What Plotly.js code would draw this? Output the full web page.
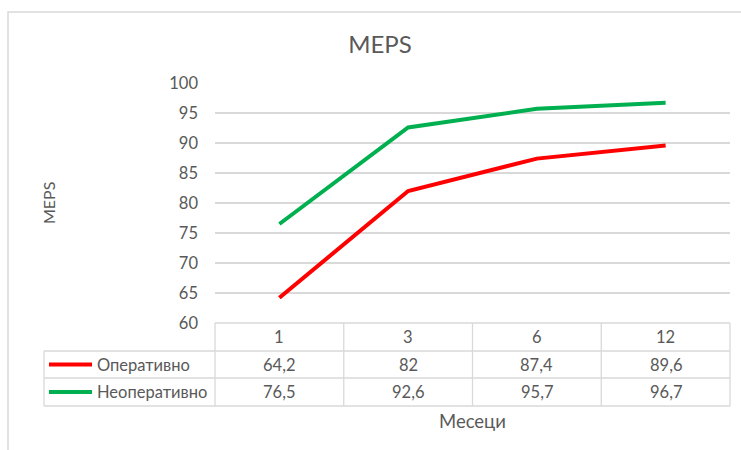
<!DOCTYPE html>
<html>
<head>
<meta charset="utf-8">
<script src="https://cdn.plot.ly/plotly-3.0.1.min.js"></script>
<style>html,body{margin:0;padding:0;background:#fff;}#chart{width:741px;height:450px;}</style>
</head>
<body>
<div id="chart"></div>
<script>
// MEPS by follow-up month, operative vs non-operative
const months = ['1', '3', '6', '12'];
const seriesNames = ['Оперативно', 'Неоперативно'];
const operative = [64.2, 82, 87.4, 89.6];
const nonOperative = [76.5, 92.6, 95.7, 96.7];
const seriesValues = [operative, nonOperative];
const seriesColors = ['#FF0000', '#00B050'];

const W = 741, H = 450;
const L = 215, R = 730, T = 83, B = 323;
const px = x => (x - L) / (R - L);
const py = y => (B - y) / (B - T);

const textColor = '#595959';
const gridColor = '#D9D9D9';
const fontFamily = 'Lato, "Open Sans", sans-serif';

const traces = seriesValues.map((vals, i) => ({
  type: 'scatter', mode: 'lines', name: seriesNames[i],
  x: months, y: vals,
  line: {color: seriesColors[i], width: 4},
  hoverinfo: 'x+y+name'
}));

// data table grid below the plot
const rowTop = [323, 351, 378, 406];
const tableLeft = 44;
const shapes = [];
const gl = (x0, y0, x1, y1, c, w) => shapes.push({type: 'line', xref: 'paper', yref: 'paper',
  x0: px(x0), y0: py(y0), x1: px(x1), y1: py(y1), line: {color: c || gridColor, width: w || 1.3}});
gl(L, rowTop[0], R, rowTop[0]);
gl(tableLeft, rowTop[1], R, rowTop[1]);
gl(tableLeft, rowTop[2], R, rowTop[2]);
gl(tableLeft, rowTop[3], R, rowTop[3]);
for (let k = 0; k <= months.length; k++) {
  const x = L + (R - L) * k / months.length;
  gl(x, rowTop[0], x, rowTop[3]);
}
gl(tableLeft, rowTop[1], tableLeft, rowTop[3]);
// legend keys in the table rows
seriesColors.forEach((c, i) => {
  const y = (rowTop[i + 1] + rowTop[i + 2]) / 2;
  gl(49, y, 92, y, c, 4);
});
// chart frame
shapes.push({type: 'rect', xref: 'paper', yref: 'paper', layer: 'below',
  x0: px(8), y0: py(12), x1: px(760), y1: py(470), line: {color: gridColor, width: 1.5}});

const annotations = [];
const tableFont = {family: fontFamily, size: 16.5, color: textColor};
const cell = (xref, x, y, text, xanchor) => annotations.push({xref: xref, yref: 'paper',
  x: x, y: y, text: text, xanchor: xanchor || 'center', yanchor: 'middle',
  showarrow: false, font: tableFont});
// category positions on the x axis are their indices
months.forEach((m, j) => cell('x', j, py((rowTop[0] + rowTop[1]) / 2), m));
seriesValues.forEach((vals, i) => {
  const y = py((rowTop[i + 1] + rowTop[i + 2]) / 2);
  cell('paper', px(95), y, seriesNames[i], 'left');
  vals.forEach((v, j) => cell('x', j, y, String(v).replace('.', ',')));
});
annotations.push({xref: 'paper', yref: 'paper', x: px(472), y: py(421), text: 'Месеци',
  xanchor: 'center', yanchor: 'middle',
  showarrow: false, font: {family: fontFamily, size: 18.5, color: textColor}});
annotations.push({xref: 'paper', yref: 'paper', x: px(48), y: 0.5, text: 'MEPS', textangle: -90,
  xanchor: 'center', yanchor: 'middle',
  showarrow: false, font: {family: fontFamily, size: 16, color: textColor}});

const layout = {
  width: W, height: H,
  margin: {l: L, r: W - R, t: T, b: H - B, pad: 0},
  paper_bgcolor: '#fff', plot_bgcolor: '#fff',
  showlegend: false,
  title: {text: 'MEPS', x: 380 / W, xanchor: 'center', xref: 'container',
    y: 1 - 45 / H, yanchor: 'middle', yref: 'container',
    font: {family: fontFamily, size: 24, color: textColor}},
  xaxis: {type: 'category', range: [-0.5, 3.5], showticklabels: false, showgrid: false,
    zeroline: false, showline: false, ticks: ''},
  yaxis: {range: [60, 100], dtick: 5, showgrid: true, gridcolor: gridColor, gridwidth: 1.3,
    zeroline: false, showline: false, ticks: '', ticklabelstandoff: 16,
    tickfont: {family: fontFamily, size: 16.5, color: textColor}},
  shapes: shapes, annotations: annotations,
  font: {family: fontFamily, color: textColor}
};

Plotly.newPlot('chart', traces, layout, {displayModeBar: false, staticPlot: true});
</script>
</body>
</html>
